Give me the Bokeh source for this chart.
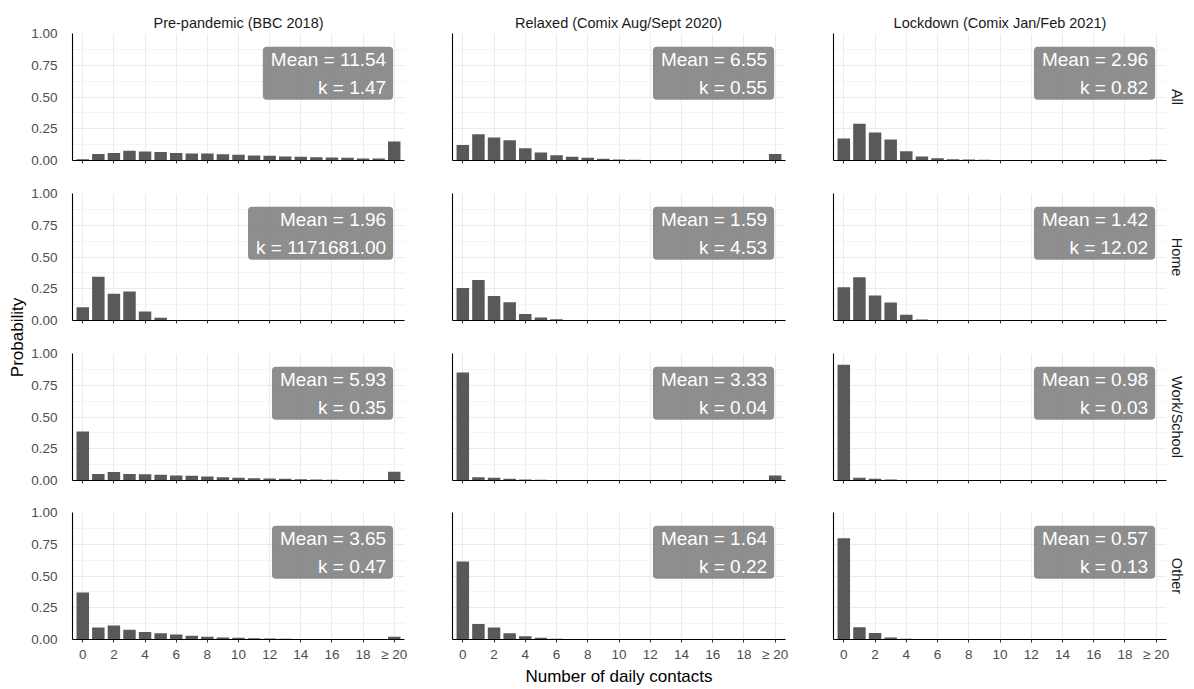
import math
from bokeh.plotting import figure
from bokeh.layouts import row, column
from bokeh.models import FixedTicker, Label, Title, Range1d, NumeralTickFormatter
from bokeh.embed import file_html
from bokeh.resources import INLINE

FONT = "Liberation Sans"

contacts = list(range(21))
x_ticks = [0, 2, 4, 6, 8, 10, 12, 14, 16, 18, 20]
x_tick_labels = {20: "≥ 20"}

periods = ["Pre-pandemic (BBC 2018)", "Relaxed (Comix Aug/Sept 2020)", "Lockdown (Comix Jan/Feb 2021)"]
settings = ["All", "Home", "Work/School", "Other"]

# Probability of each number of daily contacts (0..19, >=20)
pre_all = [0.010, 0.052, 0.060, 0.076, 0.071, 0.066, 0.060, 0.055, 0.055, 0.050, 0.045,
           0.040, 0.037, 0.031, 0.029, 0.026, 0.024, 0.021, 0.016, 0.016, 0.150]
relaxed_all = [0.123, 0.207, 0.181, 0.160, 0.097, 0.063, 0.042, 0.029, 0.021, 0.013, 0.008,
               0.005, 0.003, 0.002, 0.002, 0.002, 0.001, 0.001, 0.001, 0.001, 0.052]
lockdown_all = [0.173, 0.289, 0.220, 0.165, 0.073, 0.031, 0.018, 0.010, 0.008, 0.005, 0.003,
                0.002, 0.002, 0.001, 0.001, 0.001, 0.001, 0.001, 0.001, 0.001, 0.008]

pre_home = [0.105, 0.344, 0.210, 0.228, 0.071, 0.021, 0.002, 0.001, 0.001, 0.001, 0.001,
            0.001, 0.001, 0.001, 0.001, 0.001, 0.001, 0.001, 0.001, 0.001, 0.001]
relaxed_home = [0.255, 0.318, 0.192, 0.144, 0.052, 0.024, 0.010, 0.003, 0.001, 0.001, 0.001,
                0.001, 0.001, 0.001, 0.001, 0.001, 0.001, 0.001, 0.001, 0.001, 0.001]
lockdown_home = [0.262, 0.341, 0.197, 0.142, 0.045, 0.008, 0.001, 0.001, 0.001, 0.001, 0.001,
                 0.001, 0.001, 0.001, 0.001, 0.001, 0.001, 0.001, 0.001, 0.001, 0.001]

pre_work = [0.386, 0.052, 0.066, 0.052, 0.050, 0.045, 0.039, 0.037, 0.031, 0.026, 0.021,
            0.018, 0.016, 0.013, 0.010, 0.008, 0.005, 0.003, 0.002, 0.002, 0.068]
relaxed_work = [0.850, 0.026, 0.021, 0.013, 0.008, 0.005, 0.003, 0.001, 0.001, 0.001, 0.001,
                0.001, 0.001, 0.001, 0.001, 0.001, 0.001, 0.001, 0.001, 0.001, 0.039]
lockdown_work = [0.911, 0.021, 0.013, 0.008, 0.003, 0.001, 0.001, 0.001, 0.001, 0.001, 0.001,
                 0.001, 0.001, 0.001, 0.001, 0.001, 0.001, 0.001, 0.001, 0.001, 0.003]

pre_other = [0.370, 0.094, 0.110, 0.076, 0.060, 0.050, 0.039, 0.029, 0.021, 0.016, 0.013,
             0.010, 0.008, 0.005, 0.003, 0.002, 0.002, 0.001, 0.001, 0.001, 0.021]
relaxed_other = [0.614, 0.123, 0.094, 0.050, 0.026, 0.013, 0.005, 0.003, 0.001, 0.001, 0.001,
                 0.001, 0.001, 0.001, 0.001, 0.001, 0.001, 0.001, 0.001, 0.001, 0.002]
lockdown_other = [0.798, 0.097, 0.052, 0.016, 0.005, 0.001, 0.001, 0.001, 0.001, 0.001, 0.001,
                  0.001, 0.001, 0.001, 0.001, 0.001, 0.001, 0.001, 0.001, 0.001, 0.001]

pre_means = ["11.54", "1.96", "5.93", "3.65"]
pre_k = ["1.47", "1171681.00", "0.35", "0.47"]
relaxed_means = ["6.55", "1.59", "3.33", "1.64"]
relaxed_k = ["0.55", "4.53", "0.04", "0.22"]
lockdown_means = ["2.96", "1.42", "0.98", "0.57"]
lockdown_k = ["0.82", "12.02", "0.03", "0.13"]

values = [
    [pre_all, relaxed_all, lockdown_all],
    [pre_home, relaxed_home, lockdown_home],
    [pre_work, relaxed_work, lockdown_work],
    [pre_other, relaxed_other, lockdown_other],
]
means = [pre_means, relaxed_means, lockdown_means]
ks = [pre_k, relaxed_k, lockdown_k]

LEFT_W = 28
FRAME_W = [332, 333, 333]
BORDER_L = [38, 24, 24]
BORDER_R = [24, 24, 20]
BORDER_T = [33, 17, 17, 16]
BORDER_B = [16, 16, 16, 43]
FRAME_H = 127

TICK_SIZE = "13.5px"
STRIP_SIZE = "14.5px"

rows = []
for r in range(4):
    figs = []
    for c in range(3):
        p = figure(frame_width=FRAME_W[c], frame_height=FRAME_H,
                   x_range=Range1d(-0.66, 20.66), y_range=Range1d(0, 1.0),
                   output_backend="svg", toolbar_location=None,
                   min_border_left=BORDER_L[c], min_border_right=BORDER_R[c],
                   min_border_top=BORDER_T[r], min_border_bottom=BORDER_B[r],
                   outline_line_color=None, background_fill_color="white",
                   border_fill_color="white")
        # grids
        p.xgrid.grid_line_color = "#EBEBEB"
        p.xgrid.grid_line_width = 1.1
        p.ygrid.grid_line_color = "#EBEBEB"
        p.ygrid.grid_line_width = 1.1
        p.ygrid.minor_grid_line_color = "#F4F4F4"
        p.ygrid.minor_grid_line_width = 1

        # y axis
        yax = p.yaxis[0]
        yax.ticker = FixedTicker(ticks=[0, 0.25, 0.5, 0.75, 1.0],
                                 minor_ticks=[0.125, 0.375, 0.625, 0.875])
        yax.formatter = NumeralTickFormatter(format="0.00")
        yax.major_tick_line_color = None
        yax.minor_tick_line_color = None
        yax.axis_line_color = "black"
        yax.axis_line_width = 1.1
        yax.major_label_text_font = FONT
        if c == 0:
            yax.major_label_text_font_size = TICK_SIZE
            yax.major_label_text_color = "#4D4D4D"
            yax.major_label_standoff = 9
        else:
            yax.major_label_text_font_size = "1px"
            yax.major_label_text_color = None
            yax.major_label_standoff = 0

        # x axis
        xax = p.xaxis[0]
        xax.ticker = FixedTicker(ticks=x_ticks, minor_ticks=[])
        xax.major_label_overrides = x_tick_labels
        xax.major_tick_out = 3
        xax.major_tick_in = 0
        xax.major_tick_line_color = "#333333"
        xax.major_tick_line_width = 1.1
        xax.minor_tick_line_color = None
        xax.axis_line_color = "black"
        xax.axis_line_width = 1.1
        xax.major_label_text_font = FONT
        if r == 3:
            xax.major_label_text_font_size = TICK_SIZE
            xax.major_label_text_color = "#4D4D4D"
            xax.major_label_standoff = 4
            if c == 1:
                xax.axis_label = "Number of daily contacts"
                xax.axis_label_text_font = FONT
                xax.axis_label_text_font_size = "17px"
                xax.axis_label_text_font_style = "normal"
                xax.axis_label_text_color = "#000000"
                xax.axis_label_standoff = 2
        else:
            xax.major_label_text_font_size = "1px"
            xax.major_label_text_color = None
            xax.major_label_standoff = 0

        p.vbar(x=contacts, top=values[r][c], width=0.8, bottom=0,
               fill_color="#595959", line_color=None)

        lab = Label(x=19.93, y=0.895, x_units="data", y_units="data",
                    text=f"Mean = {means[c][r]}\nk = {ks[c][r]}",
                    text_align="right", text_baseline="top", anchor="top_right",
                    text_font=FONT, text_font_size="19px", text_color="white",
                    text_line_height=1.33,
                    background_fill_color="#7a7a7a", background_fill_alpha=0.85,
                    padding=dict(left=8, right=7, top=2, bottom=2), border_radius=4)
        p.add_layout(lab)

        if r == 0:
            t = Title(text=periods[c], align="center", text_font=FONT,
                      text_font_size=STRIP_SIZE, text_font_style="normal",
                      text_color="#1A1A1A", standoff=5)
            p.add_layout(t, "above")
        if c == 2:
            t = Title(text=settings[r], align="center", text_font=FONT,
                      text_font_size=STRIP_SIZE, text_font_style="normal",
                      text_color="#1A1A1A", standoff=5)
            p.add_layout(t, "right")
        figs.append(p)
    rows.append(row(*figs))

TOTAL_H = sum(BORDER_T) + sum(BORDER_B) + 4 * FRAME_H
left = figure(width=LEFT_W, height=TOTAL_H, output_backend="svg", toolbar_location=None,
              x_axis_location=None, y_axis_location=None, min_border=0,
              outline_line_color=None, x_range=Range1d(0, 1), y_range=Range1d(0, 1))
left.grid.visible = False
left.add_layout(Label(x=16.5, y=TOTAL_H - 337, x_units="screen", y_units="screen",
                      text="Probability", angle=math.pi / 2, text_align="center",
                      text_baseline="middle", text_font=FONT, text_font_size="17px",
                      text_color="black"))

layout = row(left, column(*rows))

open("out.html", "w").write(file_html(layout, INLINE))
